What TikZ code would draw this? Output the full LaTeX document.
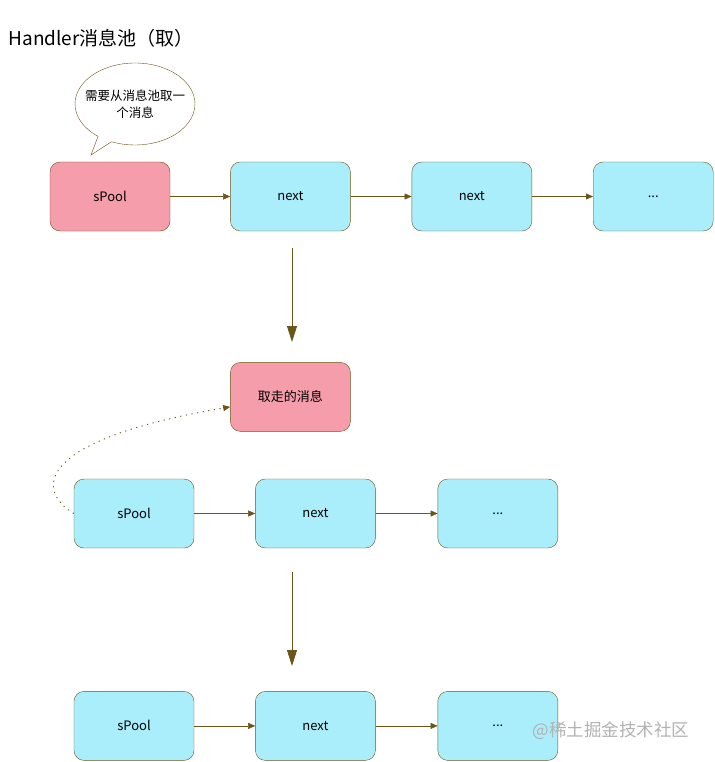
\documentclass[tikz,border=0pt]{standalone}
\usepackage{fontspec}
\setmainfont{Noto Sans CJK SC}
\usetikzlibrary{positioning,shapes.callouts,arrows.meta}
\definecolor{poolpink}{HTML}{F59DAA}
\definecolor{msgcyan}{HTML}{AAEEFB}
\definecolor{linebrown}{HTML}{6B5518}
\tikzset{
    msgbox/.style={
        draw=linebrown,
        rounded corners=10pt,
        minimum width=120pt,
        minimum height=69pt,
        fill=msgcyan,
        font=\fontsize{13}{15}\selectfont
    },
    pinkbox/.style={msgbox, fill=poolpink},
    link/.style={draw=linebrown, -{Triangle[length=7pt,width=6pt]}},
    bigdown/.style={draw=linebrown, line width=0.9pt, -{Triangle[length=16pt,width=10pt]}}
}
\begin{document}
\begin{tikzpicture}[x=1pt,y=-1pt]
        \def\gap{60pt}
        \useasboundingbox (0,0) rectangle (714,762);
        \node[anchor=west,font=\fontsize{19}{22}\selectfont] (title) at (5,38) {Handler消息池（取）};

        % first row
        \node[pinkbox] (pool1) at (110,196.5) {sPool};
        \node[msgbox,right = \gap of pool1] (nextA) {next};
        \node[msgbox,right = 61pt of nextA] (nextB) {next};
        \node[msgbox,right = 61pt of nextB] (dotsA) {...};
        \draw[link] (pool1) -- (nextA);
        \draw[link] (nextA) -- (nextB);
        \draw[link] (nextB) -- (dotsA);

        \node[ellipse callout,draw=linebrown,fill=white,minimum width=120pt,minimum height=82pt,
              callout absolute pointer={(91,155)},inner sep=0pt] (bubble) at (135,104) {};
        \node[align=center,font=\fontsize{12.5}{17}\selectfont] (bubbletext) at (bubble.center) {需要从消息池取一\\个消息};

        \node[pinkbox,below = 131pt of nextA] (taken) {取走的消息};
        \coordinate (downA1) at (292,248);
        \coordinate (downA2) at (292,342);
        \draw[bigdown] (downA1) -- (downA2);

        % second row
        \node[msgbox] (pool2) at (134,513.5) {sPool};
        \node[msgbox,right = 61pt of pool2] (nextC) {next};
        \node[msgbox,right = 62pt of nextC] (dotsB) {...};
        \draw[link] (pool2) -- (nextC);
        \draw[link] (nextC) -- (dotsB);
        \draw[linebrown,line width=0.9pt,dash pattern=on 1.2pt off 4.5pt,-{Triangle[length=7pt,width=6pt]}]
            (pool2.west) .. controls (35,490) and (35,440) .. ([yshift=-10pt]taken.west);

        \coordinate (downB1) at (292,572);
        \coordinate (downB2) at (292,666);
        \draw[bigdown] (downB1) -- (downB2);

        % third row
        \node[msgbox,below = 143pt of pool2] (pool3) {sPool};
        \node[msgbox,right = 61pt of pool3] (nextD) {next};
        \node[msgbox,right = 62pt of nextD] (dotsC) {...};
        \draw[link] (pool3) -- (nextD);
        \draw[link] (nextD) -- (dotsC);

        \node[anchor=west,text=gray!60,font=\fontsize{17.5}{19}\selectfont] (mark) at (529,731) {@稀土掘金技术社区};
\end{tikzpicture}
\end{document}
